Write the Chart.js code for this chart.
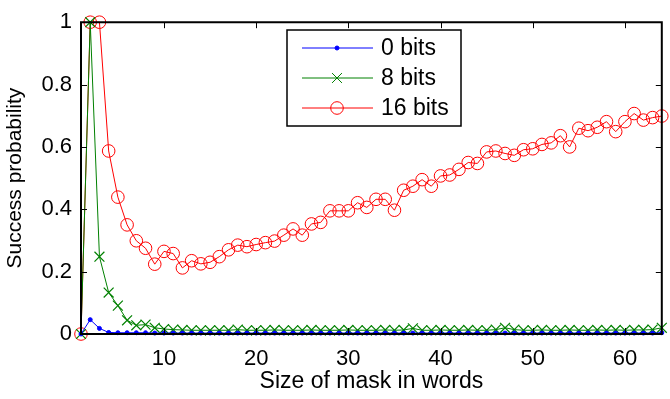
<!DOCTYPE html>
<html>
<head>
<meta charset="utf-8">
<script src="https://cdn.jsdelivr.net/npm/chart.js@4/dist/chart.umd.min.js"></script>
<style>
  html, body { margin: 0; padding: 0; background: #fff; }
  canvas { display: block; }
</style>
</head>
<body>
<canvas id="maskChart" width="670" height="399"></canvas>
<script>
// mask size in words (x axis)
const maskSizes = [
    1, 2, 3, 4, 5, 6, 7, 8, 9, 10, 11, 12, 13, 14, 15, 16,
    17, 18, 19, 20, 21, 22, 23, 24, 25, 26, 27, 28, 29, 30, 31, 32,
    33, 34, 35, 36, 37, 38, 39, 40, 41, 42, 43, 44, 45, 46, 47, 48,
    49, 50, 51, 52, 53, 54, 55, 56, 57, 58, 59, 60, 61, 62, 63, 64
];

const bits0 = [
    0, 0.046, 0.018, 0.005, 0.004, 0.004, 0.004, 0.004, 0.003, 0.003, 0.003, 0.003, 0.003, 0.003, 0.003, 0.003,
    0.003, 0.003, 0.003, 0.003, 0.003, 0.003, 0.003, 0.003, 0.003, 0.003, 0.003, 0.003, 0.003, 0.003, 0.003, 0.003,
    0.003, 0.003, 0.003, 0.003, 0.003, 0.003, 0.003, 0.003, 0.003, 0.003, 0.003, 0.003, 0.003, 0.003, 0.003, 0.003,
    0.003, 0.003, 0.003, 0.003, 0.003, 0.003, 0.003, 0.003, 0.003, 0.003, 0.003, 0.003, 0.003, 0.003, 0.003, 0.004
];

const bits8 = [
    0, 1.0, 0.248, 0.133, 0.091, 0.044, 0.028, 0.03, 0.02, 0.016, 0.014, 0.013, 0.012, 0.012, 0.012, 0.012,
    0.012, 0.014, 0.012, 0.012, 0.012, 0.013, 0.012, 0.012, 0.012, 0.013, 0.012, 0.012, 0.012, 0.013, 0.012, 0.012,
    0.012, 0.013, 0.012, 0.013, 0.018, 0.012, 0.012, 0.013, 0.012, 0.012, 0.013, 0.012, 0.012, 0.014, 0.02, 0.014,
    0.012, 0.012, 0.013, 0.012, 0.012, 0.013, 0.012, 0.012, 0.013, 0.012, 0.013, 0.012, 0.013, 0.013, 0.014, 0.02
];

const bits16 = [
    0, 1.0, 1.0, 0.587, 0.439, 0.35, 0.299, 0.275, 0.224, 0.265, 0.258, 0.212, 0.235, 0.225, 0.23, 0.248,
    0.27, 0.285, 0.28, 0.287, 0.293, 0.298, 0.317, 0.337, 0.317, 0.353, 0.358, 0.395, 0.395, 0.395, 0.421, 0.406,
    0.432, 0.432, 0.397, 0.461, 0.474, 0.495, 0.474, 0.507, 0.51, 0.528, 0.55, 0.547, 0.584, 0.587, 0.579, 0.573,
    0.591, 0.594, 0.608, 0.613, 0.636, 0.6, 0.66, 0.652, 0.663, 0.681, 0.649, 0.681, 0.707, 0.686, 0.694, 0.699
];

const xTicks = [10, 20, 30, 40, 50, 60];
const yTicks = [0, 0.2, 0.4, 0.6, 0.8, 1];
const seriesNames = ['0 bits', '8 bits', '16 bits'];

const FONT = '"Liberation Sans", Arial, sans-serif';

function toPoints(values) {
    return values.map((v, i) => ({ x: maskSizes[i], y: v }));
}

// box, inward ticks and legend drawn MATLAB style
const matlabFrame = {
    id: 'matlabFrame',
    afterDatasetsDraw(chart) {
        const { ctx, chartArea: a, scales } = chart;
        ctx.save();
        ctx.strokeStyle = '#000';
        ctx.lineWidth = 2;
        ctx.beginPath();
        ctx.rect(a.left, a.top, a.right - a.left, a.bottom - a.top);
        ctx.stroke();

        ctx.lineWidth = 1;
        ctx.beginPath();
        xTicks.forEach(v => {
            const px = Math.round(scales.x.getPixelForValue(v)) + 0.5;
            ctx.moveTo(px, a.bottom); ctx.lineTo(px, a.bottom - 6);
            ctx.moveTo(px, a.top); ctx.lineTo(px, a.top + 6);
        });
        yTicks.forEach(v => {
            const py = Math.round(scales.y.getPixelForValue(v)) + 0.5;
            ctx.moveTo(a.left, py); ctx.lineTo(a.left + 6, py);
            ctx.moveTo(a.right, py); ctx.lineTo(a.right - 6, py);
        });
        ctx.stroke();

        // legend
        const box = { x: 287, y: 30, w: 174, h: 96 };
        ctx.fillStyle = '#fff';
        ctx.fillRect(box.x, box.y, box.w, box.h);
        ctx.lineWidth = 1.5;
        ctx.strokeStyle = '#000';
        ctx.strokeRect(box.x, box.y, box.w, box.h);

        const rows = [48, 78, 108];
        chart.data.datasets.forEach((ds, i) => {
            const y = rows[i];
            ctx.strokeStyle = ds.borderColor;
            ctx.fillStyle = ds.backgroundColor;
            ctx.lineWidth = 1;
            ctx.beginPath();
            ctx.moveTo(302, y);
            ctx.lineTo(373, y);
            ctx.stroke();
            Chart.helpers.drawPoint(ctx, {
                pointStyle: ds.pointStyle,
                radius: ds.pointRadius,
                borderWidth: 1
            }, 337, y);
            ctx.fillStyle = '#000';
            ctx.font = '23px ' + FONT;
            ctx.textAlign = 'left';
            ctx.textBaseline = 'middle';
            ctx.fillText(ds.label, 381, y + 1);
        });
        ctx.restore();
    }
};

const ctx = document.getElementById('maskChart');

new Chart(ctx, {
    type: 'line',
    data: {
        datasets: [
            {
                label: seriesNames[0],
                data: toPoints(bits0),
                borderColor: '#0000ff',
                backgroundColor: '#0000ff',
                borderWidth: 1,
                pointStyle: 'circle',
                pointRadius: 2,
                pointBorderWidth: 1,
                clip: false
            },
            {
                label: seriesNames[1],
                data: toPoints(bits8),
                borderColor: '#008000',
                backgroundColor: '#008000',
                borderWidth: 1,
                pointStyle: 'crossRot',
                pointRadius: 7,
                pointBorderWidth: 1.2,
                clip: false
            },
            {
                label: seriesNames[2],
                data: toPoints(bits16),
                borderColor: '#ff0000',
                backgroundColor: 'rgba(0,0,0,0)',
                borderWidth: 1,
                pointStyle: 'circle',
                pointRadius: 6.3,
                pointBorderWidth: 1,
                clip: false
            }
        ]
    },
    options: {
        responsive: false,
        animation: false,
        events: [],
        layout: { padding: { top: 16, right: 4, left: 0, bottom: 0 } },
        plugins: {
            legend: { display: false },
            tooltip: { enabled: false }
        },
        elements: { line: { tension: 0 } },
        scales: {
            x: {
                type: 'linear',
                min: 1,
                max: 64,
                afterBuildTicks: scale => { scale.ticks = xTicks.map(v => ({ value: v })); },
                afterFit: scale => { scale.height = 65; },
                grid: { display: false, drawTicks: false },
                border: { display: false },
                ticks: {
                    color: '#000',
                    padding: 12,
                    maxRotation: 0,
                    font: { family: FONT, size: 22 }
                },
                title: {
                    display: true,
                    text: 'Size of mask in words',
                    color: '#000',
                    padding: { top: 0, bottom: 4 },
                    font: { family: FONT, size: 23 }
                }
            },
            y: {
                min: 0,
                max: 1,
                afterBuildTicks: scale => { scale.ticks = yTicks.map(v => ({ value: v })); },
                afterFit: scale => { scale.width = 81; },
                grid: { display: false, drawTicks: false },
                border: { display: false },
                ticks: {
                    color: '#000',
                    padding: 9,
                    font: { family: FONT, size: 22 },
                    callback: v => String(+v.toFixed(1))
                },
                title: {
                    display: true,
                    text: 'Success probability',
                    color: '#000',
                    padding: { top: 3, bottom: 0 },
                    font: { family: FONT, size: 21 }
                }
            }
        }
    },
    plugins: [matlabFrame]
});
</script>
</body>
</html>
